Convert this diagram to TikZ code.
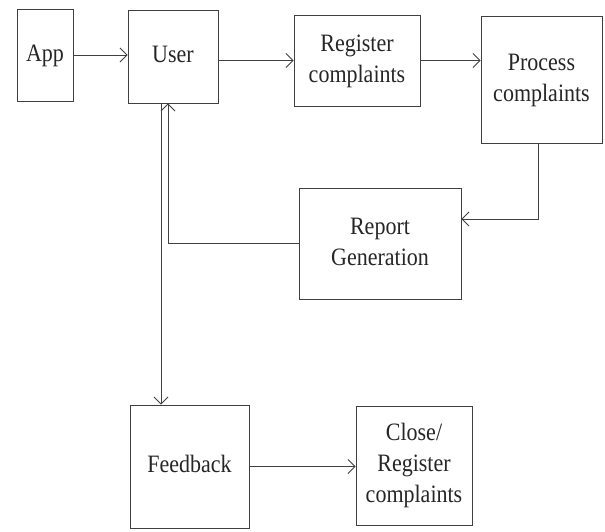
\documentclass[tikz,border=0pt]{standalone}
\usepackage{fontspec}
\usepackage{graphicx}
\setmainfont{Liberation Serif}
\usetikzlibrary{arrows.meta}
\newcommand{\sqtext}[1]{\scalebox{0.88}[1]{\begin{tabular}{@{}c@{}}#1\end{tabular}}}
\begin{document}
\begin{tikzpicture}[x=1pt,y=-1pt,
  box/.style={draw=black!75,line width=0.9pt,inner sep=0pt,align=center,
    text=black!85,font=\fontsize{25}{31}\selectfont},
  arr/.style={draw=black!75,line width=0.9pt,-{Straight Barb[length=7pt,width=14pt,line width=0.8pt]}}]
\useasboundingbox[fill=white] (0,0) rectangle (605,532);
\node[box,minimum width=56,minimum height=92] (app) at (45,55) {\sqtext{App}};
\node[box,minimum width=90,minimum height=93] (user) at (173,56.5) {\sqtext{User}};
\node[box,minimum width=126,minimum height=91] (reg) at (357,60.5) {\raisebox{5pt}{\sqtext{Register\\complaints}}};
\node[box,minimum width=121,minimum height=127] (proc) at (541.5,79.5) {\sqtext{Process\\complaints}};
\node[box,minimum width=162,minimum height=111] (rep) at (380,243.5) {\sqtext{Report\\Generation}};
\node[box,minimum width=119,minimum height=123] (fb) at (189.5,466.5) {\sqtext{Feedback}};
\node[box,minimum width=116,minimum height=119] (close) at (414,465.5) {\raisebox{4pt}{\sqtext{Close/\\Register\\complaints}}};
\draw[arr] (app.east) -- (user.west |- app.east);
\draw[arr] (user.east |- reg.west) -- (reg.west);
\draw[arr] (reg.east) -- (proc.west |- reg.east);
\draw[arr] ([xshift=-3.5pt]proc.south) |- ([yshift=24.5pt]rep.east);
\draw[arr] (rep.west) -| ([xshift=-5pt]user.south);
\draw[arr] ([xshift=-12pt]user.south) -- ([xshift=-12pt]user.south |- fb.north);
\draw[arr] (fb.east) -- (close.west |- fb.east);
\end{tikzpicture}
\end{document}
